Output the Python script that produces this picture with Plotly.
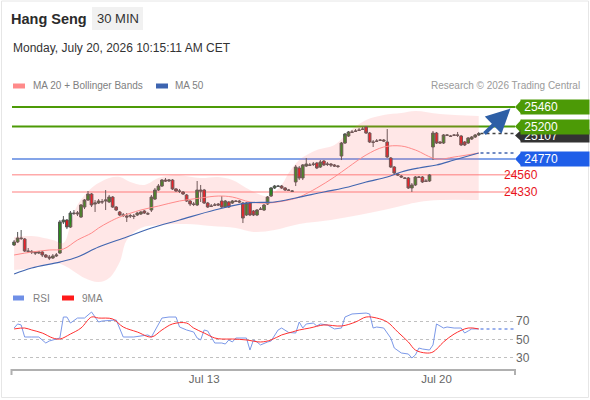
import plotly.graph_objects as go

# Hang Seng 30 MIN bars (index = bar number)
opens = [23625, 23665, 23718, 23705, 23545, 23540, 23532, 23518, 23532, 23492,
         23465, 23452, 23479, 23518, 23931, 23957, 23864, 24050, 24037, 23997,
         24130, 24223, 24303, 24170, 24183, 24197, 24210, 24197, 24263, 24130,
         24064, 24024, 24010, 24010, 24010, 24024, 24037, 24077, 24037, 24090,
         24236, 24356, 24409, 24489, 24476, 24489, 24370, 24343, 24330, 24290,
         24210, 24170, 24157, 24356, 24356, 24183, 24143, 24157, 24170, 24210,
         24130, 24197, 24183, 24210, 24210, 24183, 24024, 24183, 24077, 24024,
         24103, 24090, 24170, 24276, 24383, 24409, 24409, 24383, 24356, 24343,
         24463, 24649, 24516, 24675, 24689, 24702, 24715, 24662, 24742, 24702,
         24702, 24689, 24675, 24808, 24981, 25074, 25128, 25141, 25154, 25167,
         25194, 25114, 24995, 25008, 25021, 25021, 24995, 24782, 24662, 24569,
         24542, 24516, 24516, 24383, 24423, 24529, 24529, 24476, 24476, 24928,
         25114, 24995, 24981, 25088, 25074, 25088, 25088, 25074, 24995, 24981,
         25034, 25061, 25088]
highs = [23691, 23798, 23824, 23718, 23585, 23558, 23545, 23545, 23545, 23505,
         23492, 23505, 23518, 23957, 24010, 23970, 24077, 24090, 24077, 24170,
         24236, 24343, 24316, 24223, 24236, 24236, 24356, 24290, 24276, 24143,
         24077, 24050, 24050, 24037, 24037, 24064, 24077, 24090, 24064, 24290,
         24383, 24436, 24502, 24516, 24502, 24502, 24383, 24370, 24343, 24303,
         24223, 24197, 24476, 24423, 24370, 24197, 24170, 24183, 24183, 24276,
         24223, 24210, 24223, 24223, 24223, 24197, 24197, 24197, 24090, 24103,
         24130, 24170, 24276, 24396, 24423, 24423, 24423, 24396, 24370, 24356,
         24689, 24675, 24702, 24782, 24715, 24729, 24729, 24755, 24755, 24729,
         24715, 24702, 24689, 24995, 25114, 25141, 25154, 25167, 25181, 25194,
         25207, 25128, 25021, 25034, 25034, 25034, 25167, 24795, 24675, 24582,
         24556, 24529, 24529, 24449, 24542, 24542, 24542, 24502, 24569, 25141,
         25128, 25008, 25101, 25101, 25088, 25101, 25128, 25088, 25008, 25061,
         25074, 25101, 25128]
lows = [23612, 23651, 23691, 23532, 23518, 23505, 23492, 23505, 23465, 23452,
        23425, 23439, 23465, 23505, 23904, 23837, 23851, 24024, 24010, 23984,
        24103, 24210, 24130, 24064, 24170, 24170, 24090, 24183, 24117, 24077,
        24010, 23997, 23931, 23984, 23970, 24010, 24024, 24037, 24024, 24064,
        24223, 24343, 24396, 24463, 24463, 24356, 24330, 24316, 24290, 24197,
        24143, 24143, 24143, 24197, 24170, 24117, 24130, 24143, 24143, 24117,
        24117, 24117, 24170, 24197, 24183, 23917, 24010, 24010, 24010, 24010,
        24090, 24077, 24157, 24263, 24370, 24396, 24370, 24343, 24343, 24330,
        24409, 24489, 24489, 24662, 24675, 24675, 24635, 24649, 24675, 24675,
        24662, 24662, 24649, 24755, 24968, 25061, 25114, 25128, 25141, 25154,
        25101, 24981, 24928, 24995, 25008, 24995, 24782, 24649, 24569, 24542,
        24516, 24502, 24370, 24330, 24409, 24516, 24449, 24463, 24463, 24755,
        24968, 24968, 24968, 25074, 25061, 25074, 25061, 24941, 24941, 24968,
        25021, 25048, 25074]
closes = [23665, 23718, 23712, 23545, 23540, 23532, 23518, 23532, 23492, 23465,
          23452, 23479, 23492, 23931, 23957, 23864, 24050, 24045, 24050, 24157,
          24223, 24303, 24157, 24183, 24210, 24200, 24223, 24263, 24130, 24090,
          24024, 24020, 23997, 24015, 24005, 24050, 24064, 24050, 24040, 24263,
          24356, 24409, 24489, 24476, 24489, 24370, 24343, 24340, 24303, 24210,
          24170, 24165, 24356, 24343, 24183, 24130, 24140, 24155, 24157, 24130,
          24210, 24130, 24210, 24205, 24197, 23984, 24183, 24024, 24024, 24090,
          24100, 24157, 24263, 24383, 24409, 24405, 24383, 24356, 24352, 24340,
          24662, 24516, 24689, 24702, 24685, 24698, 24649, 24729, 24689, 24698,
          24689, 24675, 24670, 24981, 25101, 25128, 25124, 25137, 25150, 25163,
          25114, 24995, 24990, 25004, 25017, 25008, 24795, 24662, 24582, 24556,
          24529, 24512, 24383, 24423, 24529, 24525, 24463, 24472, 24556, 25114,
          24981, 24981, 25088, 25084, 25070, 25084, 25084, 24955, 24955, 25048,
          25061, 25088, 25107]
bars = list(range(len(closes)))

# MA 20 + Bollinger Bands, MA 50 (sampled at bar numbers)
ma20_bar = [0, 5, 10, 14, 18, 22, 24, 27, 30, 36, 41, 47, 53, 58, 62, 67, 72, 78,
            81, 86, 91, 95, 100, 105, 110, 114, 120, 125, 132]
ma20_val = [23492, 23532, 23558, 23571, 23691, 23784, 23851, 23931, 23997, 24090,
            24143, 24210, 24250, 24276, 24263, 24197, 24183, 24223, 24263, 24383,
            24529, 24662, 24822, 24928, 24941, 24888, 24768, 24795, 24848]
upper_bar = [0, 5, 11, 14, 16, 18, 22, 24, 27, 30, 33, 37, 41, 46, 53, 58, 62, 67,
             72, 76, 78, 81, 86, 91, 95, 100, 105, 110, 114, 121, 132]
upper_val = [23731, 23744, 23691, 23651, 23891, 24157, 24383, 24449, 24516, 24529,
             24463, 24423, 24516, 24556, 24516, 24529, 24489, 24356, 24276, 24423,
             24582, 24755, 24888, 24955, 25128, 25287, 25354, 25380, 25407, 25367,
             25340]
lower_bar = [0, 5, 12, 15, 20, 24, 27, 30, 32, 36, 41, 49, 56, 63, 68, 74, 81, 90,
             98, 105, 111, 115, 121, 132]
lower_val = [23292, 23319, 23385, 23332, 23186, 23133, 23186, 23399, 23691, 23851,
             23891, 23904, 23877, 23851, 23798, 23824, 23904, 23957, 24024, 24090,
             24157, 24197, 24223, 24223]
ma50_bar = [0, 5, 13, 18, 24, 32, 39, 47, 57, 66, 74, 80, 88, 95, 100, 106, 110,
            115, 120, 125, 132]
ma50_val = [23239, 23319, 23398, 23465, 23598, 23731, 23851, 23957, 24090, 24183,
            24197, 24250, 24330, 24396, 24463, 24529, 24596, 24649, 24689, 24755,
            24848]

# RSI and its 9MA
rsi_bar = [0, 1, 2, 3, 5, 7, 9, 10, 12, 13, 14, 15, 16, 18, 20, 21, 22, 24, 25, 29,
           30, 31, 34, 38, 39, 41, 42, 44, 46, 47, 49, 51, 52, 53, 54, 55, 57, 59,
           60, 61, 62, 63, 66, 67, 68, 69, 70, 72, 73, 75, 76, 78, 80, 81, 82, 83,
           85, 86, 87, 89, 91, 93, 94, 96, 100, 101, 102, 103, 105, 107, 108, 110,
           112, 113, 114, 115, 116, 118, 119, 120, 122, 123, 125, 127, 128, 129,
           130, 132]
rsi_val = [62.4, 66.8, 65.7, 52.7, 52.7, 52.7, 46.2, 48.4, 50.5, 51.6, 74.3, 74.3,
           67.8, 73.2, 73.2, 76.5, 79.7, 68.9, 70.0, 71.1, 62.4, 52.7, 52.7, 54.9,
           52.7, 65.7, 73.2, 74.3, 74.3, 63.5, 60.3, 58.1, 51.6, 49.5, 60.3, 59.2,
           46.2, 46.2, 45.1, 49.5, 47.3, 51.6, 51.6, 38.6, 49.5, 47.3, 44.1, 47.3,
           48.4, 60.3, 62.4, 57.6, 57.0, 68.9, 62.4, 66.8, 67.8, 64.6, 66.8, 65.7,
           61.4, 62.4, 74.3, 77.6, 78.6, 77.6, 62.4, 63.5, 62.4, 51.6, 40.8, 35.4,
           34.3, 30.0, 33.2, 40.8, 39.7, 38.6, 44.1, 66.8, 62.4, 63.5, 62.4, 62.4,
           57.0, 59.2, 61.4, 61.4]
rsima_bar = [0, 3, 5, 8, 11, 13, 16, 19, 22, 24, 28, 31, 35, 39, 42, 45, 49, 51, 54,
             57, 59, 62, 66, 70, 73, 76, 79, 81, 84, 88, 93, 97, 100, 103, 106, 109,
             112, 114, 117, 119, 122, 125, 129, 132]
rsima_val = [61.4, 62.4, 60.3, 57.0, 51.6, 50.5, 55.9, 62.4, 74.3, 73.2, 72.2, 63.5,
             58.1, 52.7, 60.3, 66.8, 67.8, 62.4, 57.0, 51.6, 50.5, 50.5, 49.5, 47.3,
             49.5, 54.9, 58.1, 60.3, 62.4, 65.7, 64.6, 68.9, 74.3, 73.2, 68.9, 58.1,
             47.3, 38.6, 35.4, 36.5, 47.3, 55.9, 62.4, 61.4]

# key levels
res_levels = [25460, 25200]
pivot_level = 24770
sup_levels = [24560, 24330]
last_price = 25107
tick_bars = [54, 120]
tick_text = ["Jul 13", "Jul 20"]

FONT = "Liberation Sans, Arial, sans-serif"
GREEN = "#4c9a06"
BLUE_LVL = "#1f5ee8"
RED = "#e8141c"


def px(xp):
    return xp / 590


def py(yp):
    return 1 - yp / 400


fig = go.Figure()

# Bollinger band fill
fig.add_trace(go.Scatter(x=upper_bar, y=upper_val, mode="lines",
                         line=dict(width=0, shape="spline", smoothing=1.0),
                         hoverinfo="skip", showlegend=False))
fig.add_trace(go.Scatter(x=lower_bar, y=lower_val, mode="lines",
                         line=dict(width=0, shape="spline", smoothing=1.0),
                         fill="tonexty", fillcolor="rgba(255,110,110,0.17)",
                         hoverinfo="skip", showlegend=False))
fig.add_trace(go.Scatter(x=ma20_bar, y=ma20_val, mode="lines",
                         line=dict(color="#ff8a8a", width=1, shape="spline"),
                         hoverinfo="skip", showlegend=False))
fig.add_trace(go.Scatter(x=ma50_bar, y=ma50_val, mode="lines",
                         line=dict(color="#4266b0", width=1.2, shape="spline"),
                         hoverinfo="skip", showlegend=False))

fig.add_trace(go.Candlestick(
    x=bars, open=opens, high=highs, low=lows, close=closes,
    increasing=dict(fillcolor="#2a8a1c", line=dict(color="#555555", width=1)),
    decreasing=dict(fillcolor="#e8141c", line=dict(color="#555555", width=1)),
    whiskerwidth=0, showlegend=False))

# RSI panel
fig.add_trace(go.Scatter(x=rsi_bar, y=rsi_val, mode="lines", xaxis="x2", yaxis="y2",
                         line=dict(color="#7b98e8", width=1),
                         hoverinfo="skip", showlegend=False))
fig.add_trace(go.Scatter(x=rsima_bar, y=rsima_val, mode="lines", xaxis="x2", yaxis="y2",
                         line=dict(color="#ff3030", width=1, shape="spline"),
                         hoverinfo="skip", showlegend=False))

shapes = []
annotations = []
x_lo, x_hi = px(12), px(515)

# horizontal levels
for v in res_levels:
    shapes.append(dict(type="line", xref="paper", yref="y", x0=x_lo, x1=x_hi, y0=v, y1=v,
                       line=dict(color=GREEN, width=2), layer="below"))
shapes.append(dict(type="line", xref="paper", yref="y", x0=x_lo, x1=x_hi,
                   y0=pivot_level, y1=pivot_level,
                   line=dict(color="#5b86e0", width=1.5), layer="below"))
for v in sup_levels:
    shapes.append(dict(type="line", xref="paper", yref="y", x0=x_lo, x1=x_hi, y0=v, y1=v,
                       line=dict(color="#ffaaaa", width=1.5), layer="below"))

# dotted extensions from last bar
shapes.append(dict(type="line", xref="x", yref="y", x0=bars[-1] + 0.5, x1=142,
                   y0=last_price, y1=last_price,
                   line=dict(color="#444444", width=1.5, dash="dot")))
shapes.append(dict(type="line", xref="x", yref="y", x0=bars[-1] + 0.5, x1=142,
                   y0=ma50_val[-1], y1=ma50_val[-1],
                   line=dict(color="#4266b0", width=1.5, dash="dot")))
shapes.append(dict(type="line", xref="x2", yref="y2", x0=rsi_bar[-1] + 0.5, x1=142,
                   y0=rsi_val[-1], y1=rsi_val[-1],
                   line=dict(color="#7b98e8", width=1.5, dash="dot")))


# price tags: pointed tip as a shape, body as an annotation box
def tag(v, color, h=14, label=None):
    half = h / 2 * 13.3
    shapes.append(dict(type="path", xref="paper", yref="y", fillcolor=color,
                       line=dict(width=0),
                       path=f"M {px(515)},{v} L {px(521.5)},{v + half} "
                            f"L {px(521.5)},{v - half} Z"))
    annotations.append(dict(x=px(555), y=v, xref="paper", yref="y",
                            xanchor="center", yanchor="middle", align="left",
                            text="\u00a0" + str(label if label is not None else v),
                            showarrow=False, width=68, height=h, borderpad=0,
                            bgcolor=color, font=dict(color="white", size=12, family=FONT)))


tag_shift = 27  # last price tag sits just under the 25200 tag
tag(last_price - tag_shift, "#333333", h=12, label=last_price)
for v in res_levels[::-1]:
    tag(v, GREEN)
tag(pivot_level, BLUE_LVL)
for v in sup_levels:
    annotations.append(dict(x=px(540), y=v, xref="paper", yref="y", text=str(v),
                            showarrow=False, font=dict(color=RED, size=12, family=FONT)))

# forecast arrow
annotations.append(dict(x=141, y=res_levels[0] - 20, xref="x", yref="y",
                        ax=bars[-1] + 1.2, ay=last_price - 20, axref="x", ayref="y",
                        showarrow=True, arrowhead=2, arrowsize=1.2, arrowwidth=4,
                        arrowcolor="#2e5fa6", text=""))

# time axis line with end ticks
shapes.append(dict(type="line", xref="paper", yref="paper", x0=px(11.5), x1=px(515),
                   y0=py(370), y1=py(370), line=dict(color="#b0b0b0", width=2)))
for xe in (11.5, 515):
    shapes.append(dict(type="line", xref="paper", yref="paper", x0=px(xe), x1=px(xe),
                       y0=py(369), y1=py(375), line=dict(color="#b0b0b0", width=2)))

# frame and header box
shapes.append(dict(type="rect", xref="paper", yref="paper", x0=px(1.5), x1=px(588.5),
                   y0=py(397.5), y1=py(1), line=dict(color="#e6e6e6", width=1)))
shapes.append(dict(type="rect", xref="paper", yref="paper", x0=px(92), x1=px(143),
                   y0=py(30), y1=py(7), fillcolor="#f1f1f1", line=dict(width=0)))

# legend swatches
for x0, x1, yy, col in [(13, 25, 86, "#ff8a8a"), (156, 168, 86, "#3d64b0"),
                        (13, 24, 298, "#6f8fe6"), (62, 74, 298, "#ff1a1a")]:
    shapes.append(dict(type="rect", xref="paper", yref="paper", x0=px(x0), x1=px(x1),
                       y0=py(yy + 2.5), y1=py(yy - 2.5), fillcolor=col, line=dict(width=0)))


def text(x, y, s, size, color, anchor="left", bold=False):
    annotations.append(dict(x=px(x), y=py(y), xref="paper", yref="paper",
                            text=f"<b>{s}</b>" if bold else s, showarrow=False,
                            xanchor=anchor, yanchor="middle",
                            font=dict(size=size, color=color, family=FONT)))


text(9, 19, "Hang Seng", 14.5, "#2b2b2b", bold=True)
text(117.5, 19, "30 MIN", 13, "#333333", anchor="center")
text(11, 48, "Monday, July 20, 2026 10:15:11 AM CET", 12, "#333333")
text(31, 86, "MA 20 + Bollinger Bands", 10, "#808080")
text(173, 86, "MA 50", 10, "#808080")
text(582, 86, "Research © 2026 Trading Central", 10, "#9a9a9a", anchor="right")
text(31, 298, "RSI", 10, "#808080")
text(80, 298, "9MA", 10, "#808080")

xrange = [-0.6, 142.3]
fig.update_layout(
    width=590, height=400,
    margin=dict(l=0, r=0, t=0, b=0),
    paper_bgcolor="white", plot_bgcolor="white",
    font=dict(family=FONT),
    showlegend=False,
    boxgap=0.1, boxgroupgap=0.15,
    xaxis=dict(domain=[x_lo, x_hi], range=xrange, visible=False,
               rangeslider=dict(visible=False), fixedrange=True),
    yaxis=dict(domain=[py(285), py(97)], range=[23093, 25593], visible=False),
    xaxis2=dict(domain=[x_lo, x_hi], range=xrange, anchor="y2",
                tickvals=tick_bars, ticktext=tick_text, ticks="",
                showline=False, showgrid=False, zeroline=False,
                tickfont=dict(size=11.5, color="#666666")),
    yaxis2=dict(domain=[py(370), py(310)], range=[17.0, 81.9], anchor="x2", side="right",
                tickvals=[30, 50, 70], ticks="", showgrid=True, gridcolor="#c0c0c0",
                griddash="dot", gridwidth=1, zeroline=False, showline=False,
                tickfont=dict(size=12, color="#666666")),
    shapes=shapes,
    annotations=annotations,
)

fig.write_html("out.html", config={"displayModeBar": False},
               post_script="document.body.style.margin='0px';")
